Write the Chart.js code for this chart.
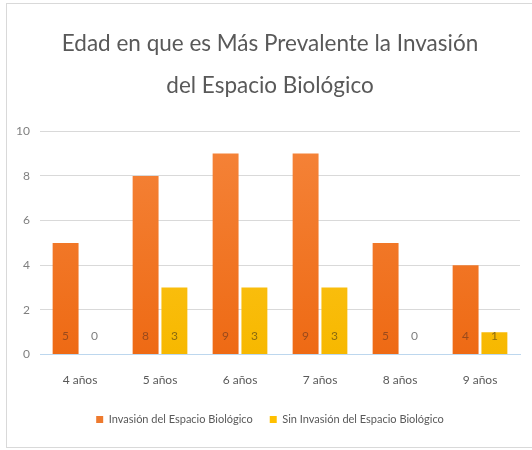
<!DOCTYPE html>
<html>
<head>
<meta charset="utf-8">
<script src="https://cdn.jsdelivr.net/npm/chart.js@4"></script>
<style>
html,body{margin:0;padding:0;background:#fff;}
#wrap{position:relative;width:532px;height:450px;overflow:hidden;}
#frame{position:absolute;left:6px;top:3px;width:540px;height:445px;border:1px solid #d9d9d9;box-sizing:border-box;pointer-events:none;}
canvas{position:absolute;left:0;top:0;}
</style>
</head>
<body>
<div id="wrap"><canvas id="c" width="532" height="450"></canvas><div id="frame"></div></div>
<script>
const titleLines = ['Edad en que es Más Prevalente la Invasión', 'del Espacio Biológico'];
const categories = ['4 años', '5 años', '6 años', '7 años', '8 años', '9 años'];
const seriesNames = ['Invasión del Espacio Biológico', 'Sin Invasión del Espacio Biológico'];
const invasion = [5, 8, 9, 9, 5, 4];
const sinInvasion = [0, 3, 3, 3, 0, 1];
const yTicks = [0, 2, 4, 6, 8, 10];

const FONT = 'Lato, "Open Sans", sans-serif';
const GRAY = '#595959';

function grad(top, bottom) {
  return function (context) {
    const chart = context.chart;
    const a = chart.chartArea;
    if (!a) return bottom;
    const g = chart.ctx.createLinearGradient(0, a.top, 0, a.bottom);
    g.addColorStop(0, top);
    g.addColorStop(1, bottom);
    return g;
  };
}

const valueLabels = {
  id: 'valueLabels',
  afterDatasetsDraw(chart) {
    const ctx = chart.ctx;
    const yBase = chart.scales.y.getPixelForValue(0);
    ctx.save();
    ctx.font = '12px ' + FONT;
    ctx.textAlign = 'center';
    ctx.textBaseline = 'middle';
    chart.data.datasets.forEach((ds, i) => {
      const meta = chart.getDatasetMeta(i);
      meta.data.forEach((bar, j) => {
        ctx.fillStyle = ds.data[j] === 0 ? '#7f7f7f' : (i === 0 ? '#9a4a1c' : '#8a6a10');
        ctx.fillText(String(ds.data[j]), bar.x, yBase - 18);
      });
    });
    ctx.restore();
  }
};

new Chart(document.getElementById('c'), {
  type: 'bar',
  data: {
    labels: categories,
    datasets: [
      { label: seriesNames[0], data: invasion, backgroundColor: grad('#F5843A', '#EE6A14'), borderWidth: 0 },
      { label: seriesNames[1], data: sinInvasion, backgroundColor: grad('#FFC928', '#F7B800'), borderWidth: 0 }
    ]
  },
  options: {
    responsive: false,
    animation: false,
    devicePixelRatio: 1,
    categoryPercentage: 0.72,
    barPercentage: 0.9,
    layout: { padding: { left: 8, right: 0, top: 23, bottom: 15 } },
    plugins: {
      title: {
        display: true,
        text: titleLines,
        color: GRAY,
        font: { family: FONT, size: 22.5, weight: 'normal', lineHeight: 1.85 },
        padding: { top: 0, bottom: 25 }
      },
      legend: {
        position: 'bottom',
        labels: {
          color: GRAY,
          font: { family: FONT, size: 11 },
          boxWidth: 7,
          boxHeight: 7,
          padding: 17,
          generateLabels(chart) {
            const cols = ['#EE7A2E', '#FFC000'];
            return chart.data.datasets.map((ds, i) => ({
              text: ds.label, fillStyle: cols[i], strokeStyle: cols[i], lineWidth: 0, datasetIndex: i, fontColor: GRAY
            }));
          }
        }
      },
      tooltip: { enabled: false }
    },
    scales: {
      x: {
        grid: { display: false },
        border: { color: '#BDD7EE' },
        ticks: { color: GRAY, font: { family: FONT, size: 12 }, padding: 10 }
      },
      y: {
        min: 0, max: 10,
        afterBuildTicks(axis) { axis.ticks = yTicks.map(v => ({ value: v })); },
        afterFit(axis) { axis.width = 32; },
        grid: { color: '#D9D9D9', drawTicks: false },
        border: { display: false },
        ticks: { color: '#7f7f7f', font: { family: FONT, size: 12 }, padding: 10 }
      },
      yRight: {
        position: 'right',
        min: 0, max: 10,
        afterFit(axis) { axis.width = 12; },
        grid: { display: false, drawOnChartArea: false },
        border: { display: false },
        ticks: { display: false }
      }
    }
  },
  plugins: [valueLabels]
});
</script>
</body>
</html>
